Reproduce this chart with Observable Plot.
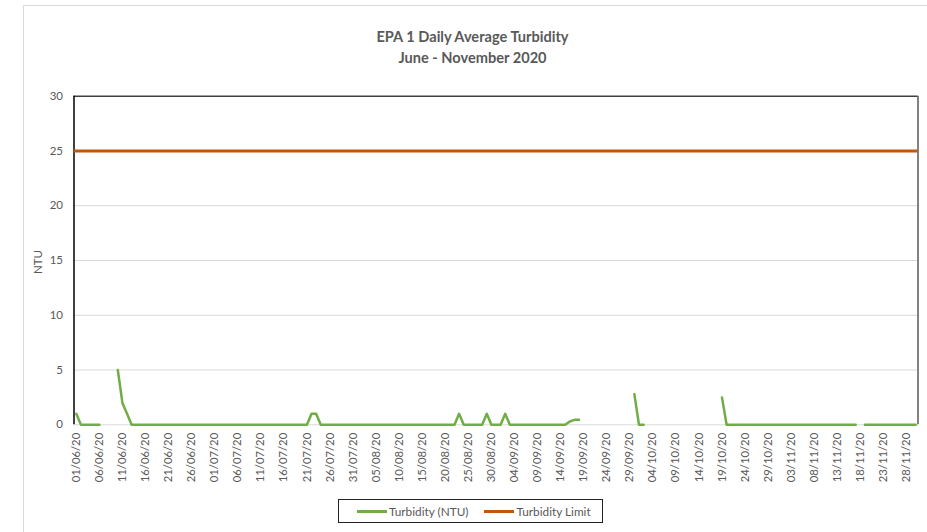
<!DOCTYPE html>
<html><head><meta charset="utf-8">
<script src="https://cdn.jsdelivr.net/npm/d3@7"></script>
<script src="https://cdn.jsdelivr.net/npm/@observablehq/plot@0.6"></script>
<style>
body{margin:0;background:#fff;font-family:Lato,"Open Sans",sans-serif;}
#wrap{position:relative;width:927px;height:532px;overflow:hidden;background:#fff;}
#border{position:absolute;left:23px;top:5px;width:1000px;height:600px;border:1px solid #d9d9d9;box-sizing:border-box;}
#chart{position:absolute;left:0;top:0;}
#title{position:absolute;left:10px;top:26px;width:925px;text-align:center;color:#595959;font-weight:bold;font-size:14.6px;line-height:21px;}
#ylab{position:absolute;left:37px;top:262px;transform:translate(-50%,-50%) rotate(-90deg);color:#595959;font-size:11.5px;white-space:nowrap;}
#legend{position:absolute;left:338px;top:499px;width:265px;height:24px;border:1px solid #222;box-sizing:border-box;display:flex;align-items:center;font-size:11.8px;color:#595959;}
.sw{display:inline-block;width:30px;height:3px;margin-right:2px;}
.it{display:flex;align-items:center;white-space:nowrap;}
</style></head>
<body>
<div id="wrap">
  <div id="border"></div>
  <div id="chart"></div>
  <div id="title"></div>
  <div id="ylab"></div>
  <div id="legend"></div>
</div>
<script>
const titleLines = ["EPA 1 Daily Average Turbidity", "June - November 2020"];
const yLabel = "NTU";
const seriesNames = ["Turbidity (NTU)", "Turbidity Limit"];
const seriesColors = ["#70AD47", "#C0560F"];
const limitValues = [25];
const yTicks = [0, 5, 10, 15, 20, 25, 30];
const tickLabels = ["01/06/20","06/06/20","11/06/20","16/06/20","21/06/20","26/06/20","01/07/20","06/07/20","11/07/20","16/07/20","21/07/20","26/07/20","31/07/20","05/08/20","10/08/20","15/08/20","20/08/20","25/08/20","30/08/20","04/09/20","09/09/20","14/09/20","19/09/20","24/09/20","29/09/20","04/10/20","09/10/20","14/10/20","19/10/20","24/10/20","29/10/20","03/11/20","08/11/20","13/11/20","18/11/20","23/11/20","28/11/20"];
// daily values 01/06/20 .. 30/11/20 (null = no data)
const turbidity = [
  1,0,0,0,0,0,null,null,null,5,
  2,1,0,0,0,0,0,0,0,0,
  0,0,0,0,0,0,0,0,0,0,
  0,0,0,0,0,0,0,0,0,0,
  0,0,0,0,0,0,0,0,0,0,
  0,1,1,0,0,0,0,0,0,0,
  0,0,0,0,0,0,0,0,0,0,
  0,0,0,0,0,0,0,0,0,0,
  0,0,0,1,0,0,0,0,0,1,
  0,0,0,1,0,0,0,0,0,0,
  0,0,0,0,0,0,0,0.3,0.45,0.45,
  null,null,null,null,null,null,null,null,null,null,
  null,2.8,0,0,null,null,null,null,null,null,
  null,null,null,null,null,null,null,null,null,null,
  2.5,0,0,0,0,0,0,0,0,0,
  0,0,0,0,0,0,0,0,0,0,
  0,0,0,0,0,0,0,0,0,0,
  null,0,0,0,0,0,0,0,0,0,
  0,0,0
];

const data = turbidity.map((v, i) => ({i, v}));
const n = turbidity.length;
const tickIdx = tickLabels.map((_, k) => k * 5);

const chart = Plot.plot({
  width: 927, height: 532,
  marginLeft: 73.5, marginRight: 9.5, marginTop: 95.7, marginBottom: 107.7,
  style: {fontFamily: "Lato, 'Open Sans', sans-serif", background: "transparent"},
  x: {domain: [-0.5, n - 0.5], axis: null},
  y: {domain: [0, 30], axis: null},
  marks: [
    Plot.ruleY(yTicks.slice(0, -1), {stroke: "#d9d9d9", strokeWidth: 1}),
    Plot.ruleY([30], {stroke: "#404040", strokeWidth: 1.5}),
    Plot.ruleX([-0.5], {stroke: "#000", strokeWidth: 1.5}),
    Plot.ruleX([n - 0.5], {stroke: "#595959", strokeWidth: 1.5}),
    Plot.ruleY(limitValues, {stroke: seriesColors[1], strokeWidth: 3}),
    Plot.line(data, {x: "i", y: "v", stroke: seriesColors[0], strokeWidth: 2.5}),
    Plot.axisY({ticks: yTicks, tickSize: 0, tickPadding: 11, fontSize: 11.5, color: "#595959", label: null}),
    Plot.axisX({ticks: tickIdx, tickFormat: d => tickLabels[d / 5], tickRotate: -90, tickSize: 0, tickPadding: 8, fontSize: 11.3, color: "#595959", label: null})
  ]
});
document.getElementById("chart").appendChild(chart);
document.getElementById("title").innerHTML = titleLines.join("<br>");
document.getElementById("ylab").textContent = yLabel;
const lg = document.getElementById("legend");
lg.innerHTML = `<span class="it" style="margin-left:18px"><span class="sw" style="background:${seriesColors[0]}"></span>${seriesNames[0]}</span>` +
  `<span class="it" style="margin-left:16px"><span class="sw" style="background:${seriesColors[1]}"></span>${seriesNames[1]}</span>`;
</script>
</body></html>
